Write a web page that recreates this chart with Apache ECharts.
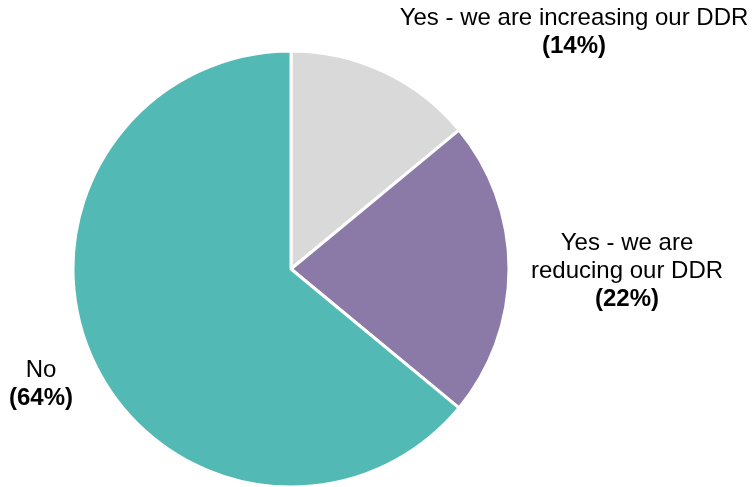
<!DOCTYPE html>
<html>
<head>
<meta charset="utf-8">
<script src="https://cdn.jsdelivr.net/npm/echarts@6/dist/echarts.min.js"></script>
<style>
  html, body { margin: 0; padding: 0; background: #fff; }
  #chart { width: 755px; height: 487px; }
</style>
</head>
<body>
<div id="chart"></div>
<script>
// Survey responses: share of answers per option
const categories = ['Yes - we are increasing our DDR', 'Yes - we are\nreducing our DDR', 'No'];
const shares = [14, 22, 64];
const colors = ['#d9d9d9', '#8b7aa7', '#52b9b4'];

// Label anchor points (text centre, top of first line) for each slice
const labelAnchors = [
  { x: 574, y: 4 },
  { x: 627, y: 229 },
  { x: 41, y: 356 }
];

const FONT = 'Liberation Sans, Arial, sans-serif';

const chart = echarts.init(document.getElementById('chart'), null, { renderer: 'canvas' });

chart.setOption({
  animation: false,
  series: [{
    type: 'pie',
    center: [291, 269],
    radius: 218,
    startAngle: 90,
    clockwise: true,
    data: categories.map((name, i) => ({
      name: name,
      value: shares[i],
      itemStyle: { color: colors[i] }
    })),
    itemStyle: { borderColor: '#ffffff', borderWidth: 3 },
    labelLine: { show: false },
    label: {
      show: true,
      position: 'outside',
      overflow: 'none',
      formatter: p => p.name + '\n{b|(' + p.value + '%)}',
      fontFamily: FONT,
      fontSize: 24,
      lineHeight: 28,
      color: '#000',
      align: 'center',
      rich: {
        b: { fontWeight: 'bold', fontSize: 24, lineHeight: 28, color: '#000', fontFamily: FONT }
      }
    },
    labelLayout: function (params) {
      const a = labelAnchors[params.dataIndex];
      return { x: a.x, y: a.y, align: 'center', verticalAlign: 'top' };
    },
    emphasis: { disabled: true }
  }]
});
</script>
</body>
</html>
